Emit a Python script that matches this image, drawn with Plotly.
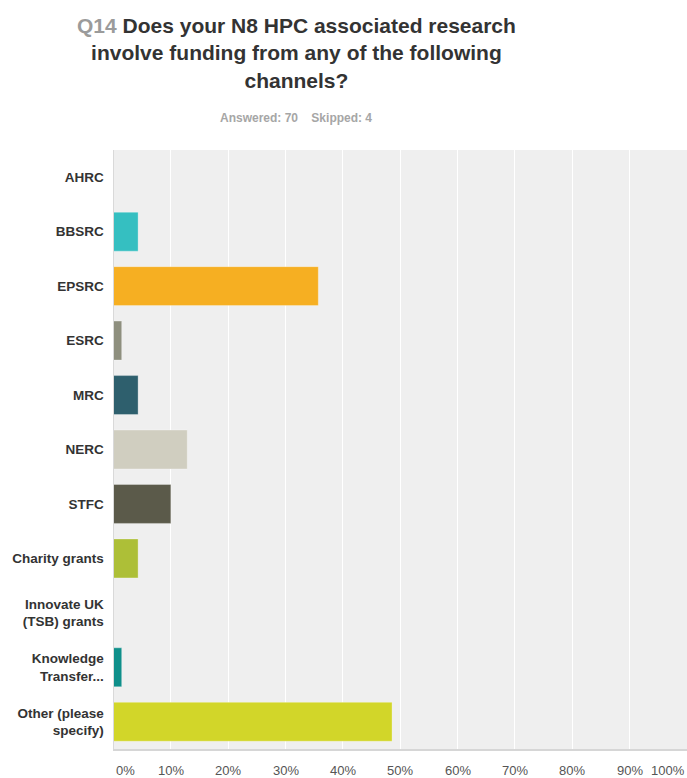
import plotly.graph_objects as go

categories = ["AHRC", "BBSRC", "EPSRC", "ESRC", "MRC", "NERC", "STFC",
              "Charity grants", "Innovate UK<br>(TSB) grants",
              "Knowledge<br>Transfer...", "Other (please<br>specify)"]
values = [0.0, 4.29, 35.71, 1.43, 4.29, 12.86, 10.0, 4.29, 0.0, 1.43, 48.57]
colors = ["#8DD3D6", "#35BFC1", "#F6AF22", "#8E8F7E", "#2E5F6D", "#D0CEC0",
          "#5B5A4A", "#ADBF37", "#7AA6C2", "#0F8F8A", "#D2D629"]
tick_values = [0, 10, 20, 30, 40, 50, 60, 70, 80, 90, 100]
tick_labels = ["0%", "10%", "20%", "30%", "40%", "50%", "60%", "70%", "80%", "90%", "100%"]

W, H = 687, 778
T, B = 150, 29
PH = H - T - B
FONT = "Liberation Sans, Arial, sans-serif"

def py(p):
    return (H - B - p) / PH

fig = go.Figure(go.Bar(
    x=values, y=categories, orientation="h",
    marker=dict(color=colors, line=dict(color="rgba(255,255,255,0.3)", width=1)),
    width=0.715, hoverinfo="skip",
))

annotations = [
    dict(text="<b><span style='color:#9b9b9b'>Q14</span> Does your N8 HPC associated research<br>"
              "involve funding from any of the following<br>channels?</b>",
         x=296 / W, y=py(53), xref="paper", yref="paper", xanchor="center", yanchor="middle",
         showarrow=False, font=dict(family=FONT, size=21, color="#333333"), align="center"),
    dict(text="<b>Answered: 70\u00a0\u00a0\u00a0\u00a0Skipped: 4</b>",
         x=296 / W, y=py(117.5), xref="paper", yref="paper", xanchor="center", yanchor="middle",
         showarrow=False, font=dict(family=FONT, size=12, color="#a6a6a6")),
]
for i, (tv, tl) in enumerate(zip(tick_values, tick_labels)):
    anchor = "left" if i == 0 else ("right" if i == len(tick_values) - 1 else "center")
    annotations.append(dict(text=tl, x=tv, xref="x", y=py(770.5), yref="paper",
                            xanchor=anchor, yanchor="middle", showarrow=False,
                            font=dict(family=FONT, size=13, color="#555555")))

fig.update_layout(
    width=W, height=H,
    margin=dict(l=0, r=0, t=T, b=B, pad=0),
    paper_bgcolor="white", plot_bgcolor="#EFEFEF",
    showlegend=False,
    annotations=annotations,
    xaxis=dict(domain=[113.5 / W, 1], range=[0, 100], tickvals=tick_values,
               showticklabels=False, showgrid=True, gridcolor="white", gridwidth=1,
               zeroline=False, showline=True, linecolor="#D6D6D6", linewidth=2,
               fixedrange=True),
    yaxis=dict(autorange="reversed", showgrid=False, zeroline=False,
               showline=True, linecolor="#D9D9D9", linewidth=1,
               tickfont=dict(family=FONT, size=13.5, color="#333333"),
               ticklabelstandoff=6, automargin=False, fixedrange=True,
               tickvals=categories, ticktext=["<b>" + c + "</b>" for c in categories]),
    bargap=0.285,
)

fig.write_html("out.html")
